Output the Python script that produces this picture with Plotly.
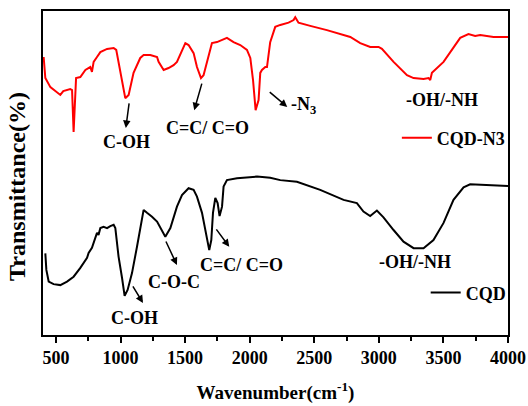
import plotly.graph_objects as go

# ---- Data ----
wn_cqdn3 = [405, 418, 457, 509, 534, 557, 611, 625, 637, 656, 689, 728, 766, 779, 792, 818, 844, 896,
            947, 967, 985, 1012, 1037, 1063, 1101, 1153, 1179, 1231, 1283, 1295, 1334, 1372, 1411, 1437,
            1476, 1502, 1527, 1566, 1592, 1623, 1643, 1682, 1708, 1747, 1786, 1824, 1875, 1927, 1979,
            2005, 2026, 2046, 2069, 2082, 2095, 2121, 2134, 2159, 2198, 2237, 2301, 2340, 2353, 2378,
            2469, 2598, 2779, 2856, 2933, 2998, 3024, 3114, 3218, 3269, 3346, 3385, 3398, 3411, 3501,
            3630, 3694, 3746, 3785, 3888, 4000]
t_cqdn3 = [85.8, 79.3, 76.5, 75.0, 74.1, 75.3, 75.9, 75.6, 62.7, 79.3, 79.6, 81.8, 82.7, 81.2, 84.3, 85.8,
           87.3, 88.3, 88.6, 88.0, 84.0, 77.8, 73.1, 74.1, 80.9, 85.5, 86.4, 86.4, 85.8, 84.3, 81.8, 82.4,
           83.3, 84.3, 88.0, 90.1, 89.5, 87.0, 82.7, 79.3, 80.2, 85.8, 90.1, 90.4, 91.0, 91.7, 90.4, 89.5,
           88.0, 85.5, 78.7, 69.4, 72.5, 80.9, 81.8, 82.7, 82.7, 90.4, 95.1, 95.7, 96.4, 97.2, 98.1, 96.4,
           95.4, 94.1, 92.0, 90.1, 88.9, 88.9, 88.3, 84.3, 80.2, 79.3, 79.0, 79.3, 78.7, 80.9, 84.3,
           91.7, 92.9, 92.3, 92.6, 92.0, 92.0]

wn_cqd = [418, 426, 444, 482, 534, 586, 637, 689, 741, 753, 779, 805, 818, 830, 844, 869, 896, 921, 947,
          960, 985, 1012, 1032, 1055, 1089, 1128, 1166, 1179, 1205, 1244, 1283, 1321, 1347, 1386, 1437,
          1476, 1527, 1566, 1592, 1631, 1669, 1687, 1703, 1716, 1734, 1752, 1767, 1786, 1798, 1824,
          1902, 2057, 2159, 2237, 2366, 2546, 2727, 2830, 2881, 2933, 2985, 3036, 3114, 3191, 3269,
          3346, 3423, 3501, 3578, 3656, 3707, 3888, 4000]
t_cqd = [25.2, 20.1, 16.5, 15.7, 15.4, 16.5, 18.0, 20.7, 23.8, 25.3, 26.9, 30.3, 31.5, 30.9, 33.0, 33.4,
         33.0, 33.6, 34.0, 33.0, 24.2, 17.6, 12.1, 13.9, 19.1, 27.3, 35.5, 38.6, 37.7, 36.5, 35.0, 32.4,
         30.3, 33.0, 39.6, 43.2, 45.3, 44.8, 42.7, 37.7, 30.3, 26.2, 29.3, 37.7, 42.3, 40.7, 36.7, 39.6,
         45.8, 47.8, 48.4, 48.9, 48.5, 47.8, 47.3, 44.8, 41.7, 40.7, 38.1, 36.7, 38.4, 36.3, 32.4, 28.8,
         26.8, 26.8, 29.3, 34.6, 41.7, 45.6, 46.5, 46.3, 46.0]

x_ticks = [500, 1000, 1500, 2000, 2500, 3000, 3500, 4000]

# annotation labels: (text, x, y)
labels = [
    ("C-OH", 1045, 59.6), ("C=C/ C=O", 1672, 63.9), ("-OH/-NH", 3491, 72.5),
    ("C-OH", 1107, 5.2), ("C-O-C", 1416, 16.4), ("C=C/ C=O", 1935, 21.6), ("-OH/-NH", 3281, 22.5),
]
# arrows: head (x, y) and tail offset in pixels (ax, ay)
arrows = [
    (1041, 63.9, 3.5, -26), (1571, 69.4, 8, -28), (2291, 70.4, -19, -16),
    (1174, 9.9, -11, -18), (1437, 21.6, -11.7, -25), (1842, 27.2, -14, -19),
]

FONT = "Liberation Serif"

fig = go.Figure()
fig.add_trace(go.Scatter(x=wn_cqdn3, y=t_cqdn3, mode="lines", name="<b>CQD-N3</b>",
                         line=dict(color="#ff0000", width=2), legend="legend", showlegend=True))
fig.add_trace(go.Scatter(x=wn_cqd, y=t_cqd, mode="lines", name="<b>CQD</b>",
                         line=dict(color="#000000", width=2), legend="legend2", showlegend=True))

ann = []
for txt, x, y in labels:
    ann.append(dict(x=x, y=y, text="<b>%s</b>" % txt, showarrow=False,
                    font=dict(family=FONT, size=18, color="black"), xanchor="center", yanchor="middle"))
ann.append(dict(x=2306, y=70.7, text="<b>-N<sub>3</sub></b>", showarrow=False,
                font=dict(family=FONT, size=18, color="black"), xanchor="left", yanchor="middle"))
for x, y, ax, ay in arrows:
    ann.append(dict(x=x, y=y, ax=ax, ay=ay, text="", showarrow=True, arrowhead=2,
                    arrowsize=1, arrowwidth=1.5, arrowcolor="black"))
# y-axis title as a rotated annotation (placed like the reference)
ann.append(dict(xref="paper", yref="paper", x=-0.056, y=0.46, text="<b>Transmittance(%)</b>",
                textangle=-90, showarrow=False, xanchor="center", yanchor="middle",
                font=dict(family=FONT, size=24, color="black")))

fig.update_layout(
    width=528, height=406,
    margin=dict(l=43, r=20, t=11, b=71),
    paper_bgcolor="white", plot_bgcolor="white",
    font=dict(family=FONT, size=16, color="black"),
    showlegend=True,
    annotations=ann,
    legend=dict(x=0.761, y=0.608, xanchor="left", yanchor="middle", bgcolor="rgba(0,0,0,0)",
                font=dict(family=FONT, size=18, color="black")),
    legend2=dict(x=0.823, y=0.13, xanchor="left", yanchor="middle", bgcolor="rgba(0,0,0,0)",
                 font=dict(family=FONT, size=18, color="black")),
    xaxis=dict(range=[400, 4000], tickvals=x_ticks, ticktext=["<b>%d</b>" % v for v in x_ticks],
               ticks="outside", ticklen=6, tickwidth=1.5, tickcolor="black",
               minor=dict(ticks="outside", dtick=250, tick0=0, ticklen=4, tickwidth=1.5, tickcolor="black"),
               showline=True, linecolor="black", linewidth=1.5, mirror=True,
               showgrid=False, zeroline=False, automargin=False,
               tickfont=dict(family=FONT, size=18, color="black"),
               title=dict(text="<b>Wavenumber(cm<sup>-1</sup>)</b>", font=dict(family=FONT, size=19),
                          standoff=18)),
    yaxis=dict(range=[0, 100], showticklabels=False, ticks="",
               showline=True, linecolor="black", linewidth=1.5, mirror=True,
               showgrid=False, zeroline=False, automargin=False),
)

fig.write_html("out.html")
